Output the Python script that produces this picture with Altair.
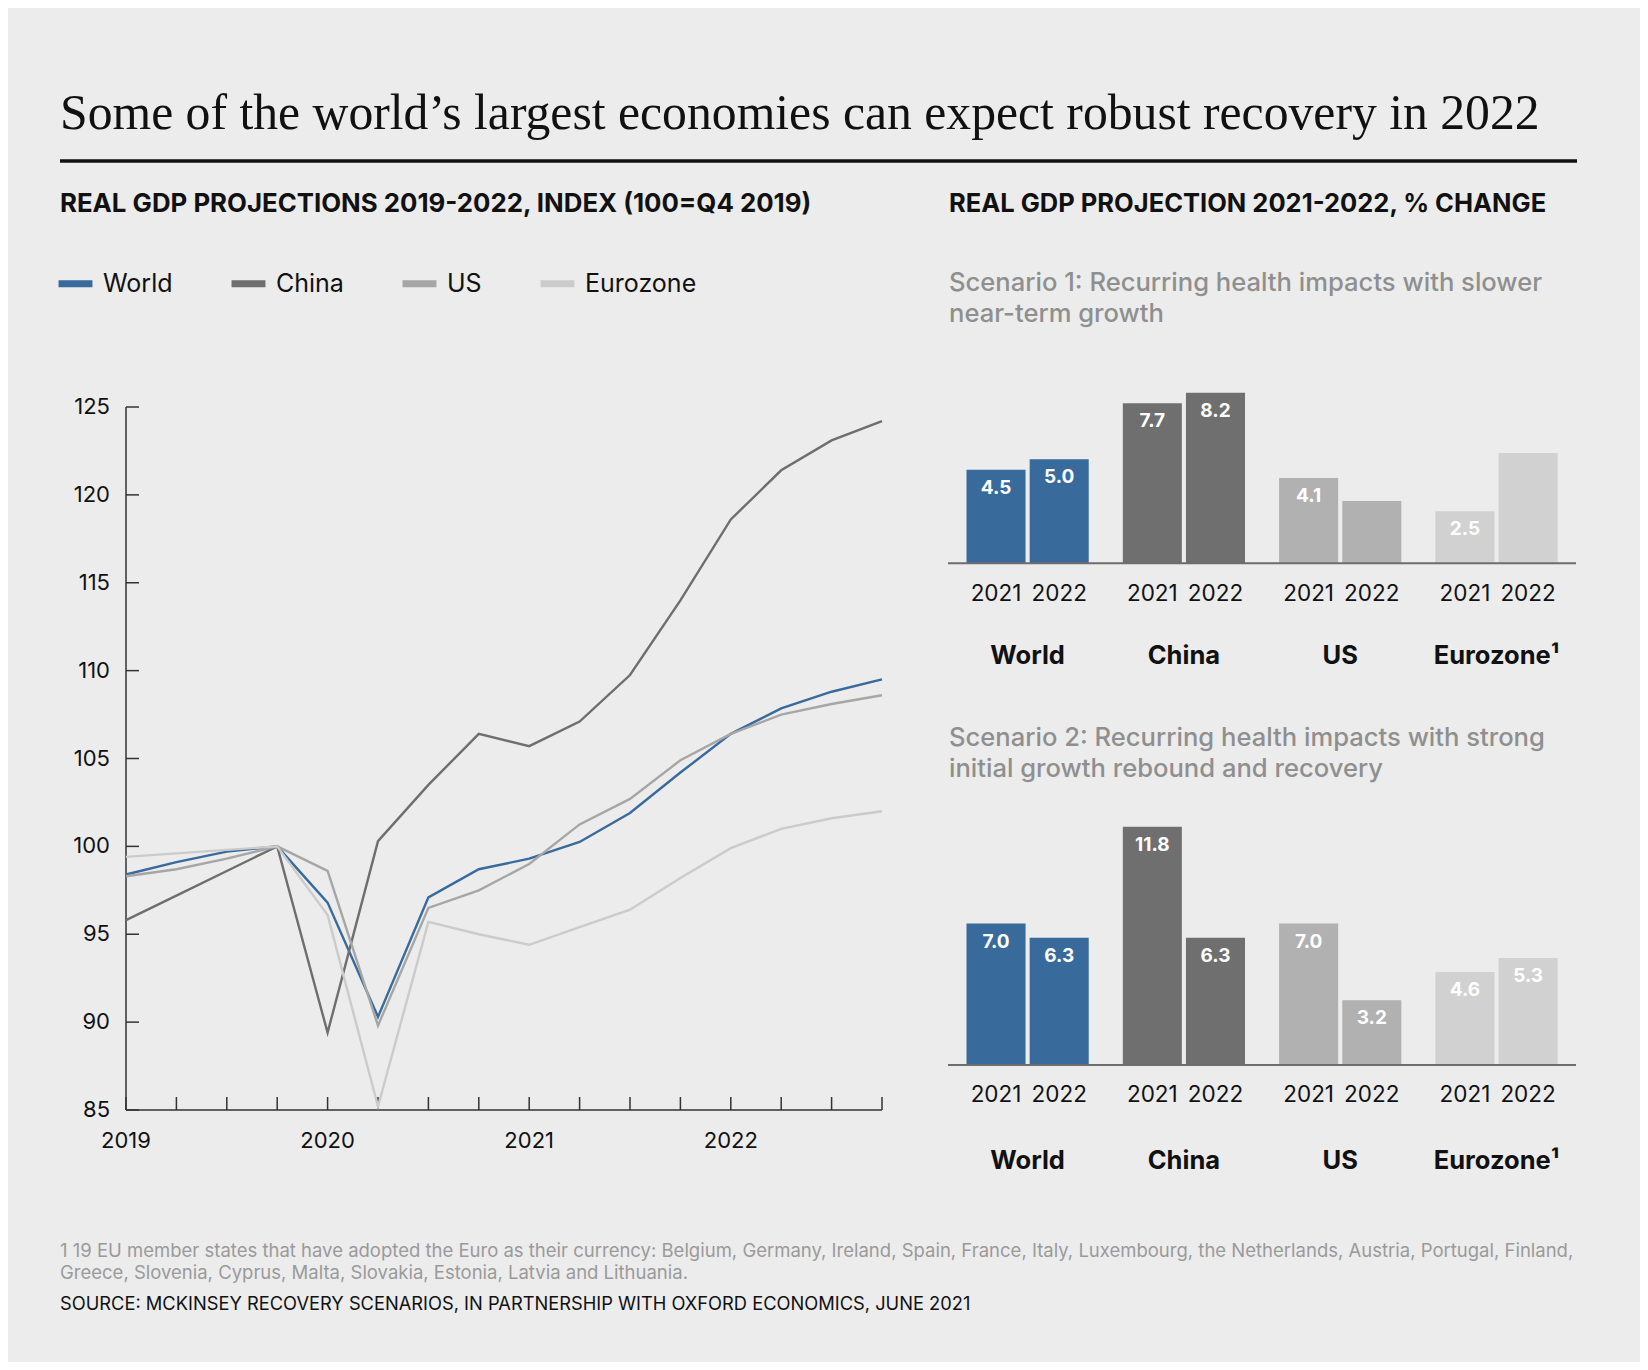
import altair as alt
import pandas as pd

SANS = "Inter"
SERIF = "Liberation Serif"

# ---------------- data ----------------
quarters = ["2019 Q1", "2019 Q2", "2019 Q3", "2019 Q4",
            "2020 Q1", "2020 Q2", "2020 Q3", "2020 Q4",
            "2021 Q1", "2021 Q2", "2021 Q3", "2021 Q4",
            "2022 Q1", "2022 Q2", "2022 Q3", "2022 Q4"]
world = [98.4, 99.1, 99.7, 100.0, 96.8, 90.3, 97.1, 98.7, 99.3, 100.25, 101.9, 104.2, 106.4, 107.85, 108.8, 109.5]
china = [95.8, 97.2, 98.6, 100.0, 89.4, 100.3, 103.5, 106.4, 105.7, 107.1, 109.75, 114.0, 118.6, 121.4, 123.1, 124.2]
us = [98.3, 98.7, 99.3, 100.0, 98.6, 89.8, 96.5, 97.5, 99.0, 101.25, 102.7, 104.9, 106.4, 107.5, 108.1, 108.6]
eurozone = [99.4, 99.6, 99.8, 100.0, 96.1, 85.2, 95.7, 95.0, 94.4, 95.4, 96.4, 98.2, 99.9, 101.0, 101.6, 102.0]
series = ["World", "China", "US", "Eurozone"]
series_colors = ["#386a9c", "#6e6e6e", "#a6a6a6", "#cbcbcb"]
y_ticks = [85, 90, 95, 100, 105, 110, 115, 120, 125]
year_ticks = ["2019 Q1", "2020 Q1", "2021 Q1", "2022 Q1"]
year_labels = ["2019", "2020", "2021", "2022"]

countries = ["World", "China", "US", "Eurozone"]
country_labels = ["World", "China", "US", "Eurozone\u00b9"]
bar_years = ["2021", "2022"]
bar_colors = ["#386a9c", "#6f6f6f", "#b1b1b1", "#d1d1d1"]
s1_2021 = [4.5, 7.7, 4.1, 2.5]
s1_2022 = [5.0, 8.2, 3.0, 5.3]
s1_2022_labelled = [True, True, False, False]
s2_2021 = [7.0, 11.8, 7.0, 4.6]
s2_2022 = [6.3, 6.3, 3.2, 5.3]

# ---------------- tables ----------------
rows = []
for name, vals in zip(series, [world, china, us, eurozone]):
    for q, v in zip(quarters, vals):
        rows.append({"quarter": q, "series": name, "value": v})
df_lines = pd.DataFrame(rows)


def bar_table(v21, v22, lab22):
    r = []
    for i, c in enumerate(countries):
        r.append({"country": c, "year": "2021", "value": v21[i],
                  "label": f"{v21[i]:.1f}", "zero": 0, "clabel": country_labels[i]})
        r.append({"country": c, "year": "2022", "value": v22[i],
                  "label": f"{v22[i]:.1f}" if lab22[i] else "", "zero": 0, "clabel": country_labels[i]})
    return pd.DataFrame(r)


df_s1 = bar_table(s1_2021, s1_2022, s1_2022_labelled)
df_s2 = bar_table(s2_2021, s2_2022, [True] * 4)

# ---------------- scales ----------------
xq = alt.Scale(type="point", domain=quarters, range=[118, 874], padding=0)
yl = alt.Scale(domain=[85, 125], range=[1102, 399], zero=False, nice=False)
xb = alt.Scale(type="band", domain=countries, range=[958.5, 1549.6], paddingInner=0.218, paddingOuter=0)
xo = alt.Scale(type="band", domain=bar_years, paddingInner=0.065, paddingOuter=0)
yb1 = alt.Scale(domain=[0, 10], range=[555.3, 347.3], nice=False)
yb2 = alt.Scale(domain=[0, 12], range=[1057, 814.6], nice=False)

AX = "#333333"

# ---------------- line chart ----------------
lines = alt.Chart(df_lines).mark_line(strokeWidth=2.4, clip=False).encode(
    x=alt.X("quarter:O", scale=xq, axis=None),
    y=alt.Y("value:Q", scale=yl, axis=None),
    color=alt.Color("series:N", scale=alt.Scale(domain=series, range=series_colors),
                    legend=alt.Legend(orient="none", legendX=47, legendY=255, direction="horizontal",
                                      title=None, symbolType="stroke", symbolSize=1150,
                                      symbolStrokeWidth=7, labelFontSize=25, labelFont=SANS,
                                      labelColor="#111111", labelOffset=7, columnPadding=44,
                                      gridAlign="each", labelLimit=0, padding=0)),
)

yaxis_df = pd.DataFrame({"q": [quarters[0]], "lo": [y_ticks[0]], "hi": [y_ticks[-1]]})
y_axis_line = alt.Chart(yaxis_df).mark_rule(color=AX, strokeWidth=1.5).encode(
    x=alt.X("q:O", scale=xq, axis=None),
    y=alt.Y("lo:Q", scale=yl, axis=None),
    y2="hi:Q",
)
ytick_df = pd.DataFrame({"v": y_ticks, "q": [quarters[0]] * len(y_ticks)})
y_tick_marks = alt.Chart(ytick_df).mark_rule(color=AX, strokeWidth=1.5, x2Offset=13).encode(
    x=alt.X("q:O", scale=xq, axis=None),
    x2="q:O",
    y=alt.Y("v:Q", scale=yl, axis=None),
)
y_tick_labels = alt.Chart(ytick_df).mark_text(align="right", baseline="middle", dx=-16,
                                              fontSize=22, font=SANS, color="#111111").encode(
    x=alt.X("q:O", scale=xq, axis=None),
    y=alt.Y("v:Q", scale=yl, axis=None),
    text=alt.Text("v:Q"),
)
xaxis_df = pd.DataFrame({"q0": [quarters[0]], "q1": [quarters[-1]], "v": [y_ticks[0]]})
x_axis_line = alt.Chart(xaxis_df).mark_rule(color=AX, strokeWidth=1.5).encode(
    x=alt.X("q0:O", scale=xq, axis=None),
    x2="q1:O",
    y=alt.Y("v:Q", scale=yl, axis=None),
)
xtick_df = pd.DataFrame({"q": quarters, "v": [y_ticks[0]] * len(quarters)})
x_tick_marks = alt.Chart(xtick_df).mark_rule(color=AX, strokeWidth=1.5, y2Offset=-13).encode(
    x=alt.X("q:O", scale=xq, axis=None),
    y=alt.Y("v:Q", scale=yl, axis=None),
    y2="v:Q",
)
xlab_df = pd.DataFrame({"q": year_ticks, "t": year_labels, "v": [y_ticks[0]] * 4})
x_tick_labels = alt.Chart(xlab_df).mark_text(align="center", baseline="middle", dy=31,
                                             fontSize=22, font=SANS, color="#111111").encode(
    x=alt.X("q:O", scale=xq, axis=None),
    y=alt.Y("v:Q", scale=yl, axis=None),
    text="t:N",
)


# ---------------- bar charts ----------------
def bar_panel(df, ys, year_dy, country_dy):
    base = alt.Chart(df).encode(
        x=alt.X("country:N", scale=xb, axis=None),
        xOffset=alt.XOffset("year:N", scale=xo),
    )
    bars = base.mark_bar().encode(
        y=alt.Y("value:Q", scale=ys, axis=None, stack=None),
        color=alt.Color("country:N", scale=alt.Scale(domain=countries, range=bar_colors), legend=None),
    )
    vals = base.mark_text(baseline="middle", dy=18, fontSize=19, fontWeight="bold",
                          font=SANS, color="white").encode(
        y=alt.Y("value:Q", scale=ys, axis=None, stack=None),
        text="label:N",
    )
    yrs = base.mark_text(baseline="middle", dy=year_dy, fontSize=22.5, font=SANS,
                         color="#111111").encode(
        y=alt.Y("zero:Q", scale=ys, axis=None),
        text="year:N",
    )
    cl = alt.Chart(df[df["year"] == "2021"]).mark_text(baseline="middle", dy=country_dy, fontSize=25.5,
                                                       fontWeight="bold", font=SANS,
                                                       color="#111111").encode(
        x=alt.X("country:N", scale=xb, axis=None),
        y=alt.Y("zero:Q", scale=ys, axis=None),
        text="clabel:N",
    )
    base_rule = alt.Chart(df.head(1)).mark_rule(color="#6d6d6d", strokeWidth=2).encode(
        x=alt.value(940), x2=alt.value(1568),
        y=alt.Y("zero:Q", scale=ys, axis=None),
    )
    return [bars, base_rule, vals, yrs, cl]


panel1 = bar_panel(df_s1, yb1, 31, 93)
panel2 = bar_panel(df_s2, yb2, 30, 96)


# ---------------- text ----------------
def txt(t, x, y, size, weight="normal", color="#111111", font=SANS):
    return alt.Chart(pd.DataFrame({"t": [t]})).mark_text(
        align="left", baseline="alphabetic", fontSize=size, fontWeight=weight,
        color=color, font=font).encode(text="t:N", x=alt.value(x), y=alt.value(y))


texts = [
    txt("Some of the world\u2019s largest economies can expect robust recovery in 2022", 52, 121, 49.7, font=SERIF),
    txt("REAL GDP PROJECTIONS 2019-2022, INDEX (100=Q4 2019)", 52, 204, 25.8, "bold"),
    txt("REAL GDP PROJECTION 2021-2022, % CHANGE", 941, 204, 25.5, "bold"),
    txt("Scenario 1: Recurring health impacts with slower", 941, 283, 25.6, 500, "#8f8f8f"),
    txt("near-term growth", 941, 314, 25.6, 500, "#8f8f8f"),
    txt("Scenario 2: Recurring health impacts with strong", 941, 738, 25.6, 500, "#8f8f8f"),
    txt("initial growth rebound and recovery", 941, 769, 25.6, 500, "#8f8f8f"),
    txt("1 19 EU member states that have adopted the Euro as their currency: Belgium, Germany, Ireland, Spain, "
        "France, Italy, Luxembourg, the Netherlands, Austria, Portugal, Finland,", 52, 1249, 18.5, color="#9a9a9a"),
    txt("Greece, Slovenia, Cyprus, Malta, Slovakia, Estonia, Latvia and Lithuania.", 52, 1271, 18.5,
        color="#9a9a9a"),
    txt("SOURCE: MCKINSEY RECOVERY SCENARIOS, IN PARTNERSHIP WITH OXFORD ECONOMICS, JUNE 2021", 52, 1302, 18.3),
]

title_rule = alt.Chart(pd.DataFrame({"a": [0]})).mark_rule(color="#111111", strokeWidth=3.5).encode(
    x=alt.value(52), x2=alt.value(1569), y=alt.value(153))

layers = ([title_rule] + texts +
          [y_axis_line, y_tick_marks, y_tick_labels, x_axis_line, x_tick_marks, x_tick_labels, lines] +
          panel1 + panel2)

chart = alt.layer(*layers).resolve_scale(
    x="independent", y="independent", color="independent", xOffset="independent"
).properties(
    width=1632, height=1354, autosize=alt.AutoSizeParams(type="none"), padding=0,
    background="#ececec",
).configure_view(stroke=None)

chart.save("out.html", embed_options={"renderer": "svg", "actions": False})
